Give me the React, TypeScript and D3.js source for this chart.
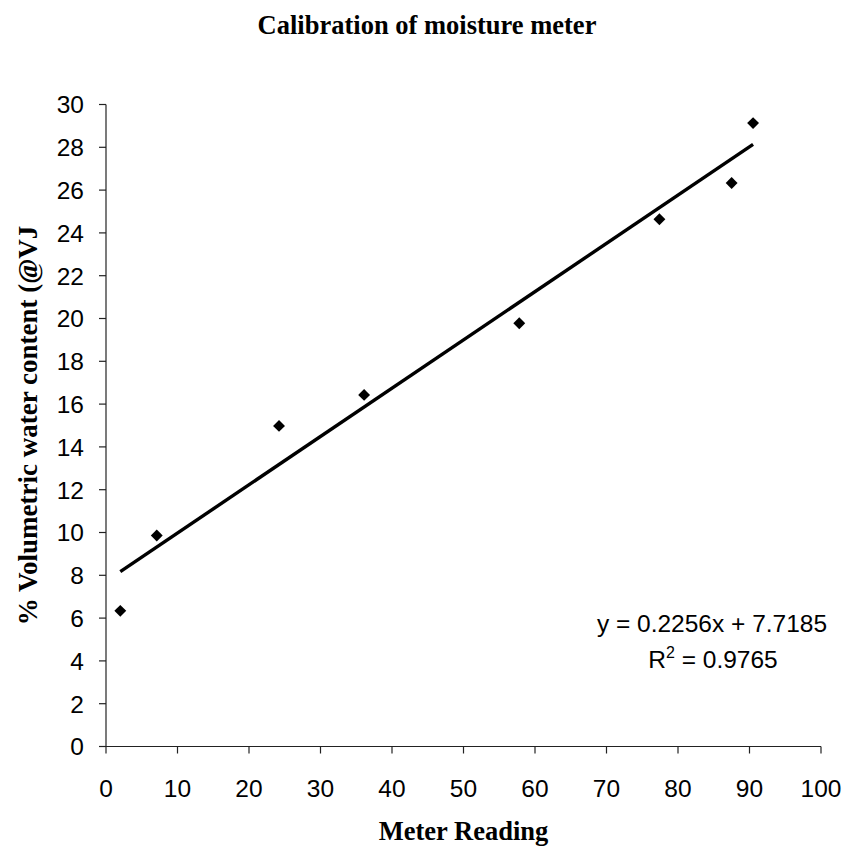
import React from "react";
import * as d3 from "d3";

const meterReading = [2.0, 7.1, 24.2, 36.1, 57.8, 77.4, 87.5, 90.5];
const waterContent = [6.34, 9.86, 14.98, 16.43, 19.78, 24.64, 26.33, 29.13];
const xTicks = [0, 10, 20, 30, 40, 50, 60, 70, 80, 90, 100];
const yTicks = [0, 2, 4, 6, 8, 10, 12, 14, 16, 18, 20, 22, 24, 26, 28, 30];
const slope = 0.2256;
const intercept = 7.7185;
const equationText = "y = 0.2256x + 7.7185";
const rSquaredText = "= 0.9765";
const title = "Calibration of moisture meter";
const xTitle = "Meter Reading";
const yTitle = "% Volumetric water content (@VJ";

export default function App() {
  const W = 849, H = 849;
  const left = 106, right = 821, top = 104.5, bottom = 746.5;
  const x = d3.scaleLinear().domain([0, 100]).range([left, right]);
  const y = d3.scaleLinear().domain([0, 30]).range([bottom, top]);
  const xMin = d3.min(meterReading) as number;
  const xMax = d3.max(meterReading) as number;
  const line = d3.line<number>().x((d) => x(d)).y((d) => y(slope * d + intercept));
  const diamond = d3.symbol().type(d3.symbolDiamond2).size(90)();
  const tickFont = "Arial, 'Liberation Sans', sans-serif";
  const serif = "'Times New Roman', 'Liberation Serif', serif";
  const plotCx = (left + right) / 2;
  const plotCy = (top + bottom) / 2;
  return (
    <svg width={W} height={H} style={{ position: "absolute", left: 0, top: 0, background: "#fff" }}>
      <text x={427} y={34} textAnchor="middle" fontFamily={serif} fontWeight="bold" fontSize={26.5}>{title}</text>
      {/* axes */}
      <line x1={left} x2={left} y1={top} y2={bottom} stroke="#222" strokeWidth={1.2} />
      <line x1={left} x2={right} y1={bottom} y2={bottom} stroke="#222" strokeWidth={1.2} />
      {yTicks.map((t) => (
        <g key={"y" + t}>
          <line x1={left - 7} x2={left} y1={y(t)} y2={y(t)} stroke="#222" strokeWidth={1.2} />
          <text x={84} y={y(t) + 8.8} textAnchor="end" fontFamily={tickFont} fontSize={24.5}>{t}</text>
        </g>
      ))}
      {xTicks.map((t) => (
        <g key={"x" + t}>
          <line x1={x(t)} x2={x(t)} y1={bottom} y2={bottom + 7} stroke="#222" strokeWidth={1.2} />
          <text x={x(t)} y={797} textAnchor="middle" fontFamily={tickFont} fontSize={24.5}>{t}</text>
        </g>
      ))}
      {/* trendline */}
      <path d={line([xMin, xMax]) || ""} stroke="#000" strokeWidth={3.4} fill="none" />
      {/* points */}
      {meterReading.map((m, i) => (
        <path key={i} d={diamond || ""} transform={`translate(${x(m)},${y(waterContent[i])})`} fill="#000" />
      ))}
      <text x={712} y={632} textAnchor="middle" fontFamily={tickFont} fontSize={24.5}>{equationText}</text>
      <text x={713} y={668} textAnchor="middle" fontFamily={tickFont} fontSize={24.5}>
        R<tspan dy={-10} fontSize={16}>2</tspan><tspan dy={10}> {rSquaredText}</tspan>
      </text>
      <text x={plotCx} y={840} textAnchor="middle" fontFamily={serif} fontWeight="bold" fontSize={26.5}>{xTitle}</text>
      <text transform={`translate(37,${plotCy}) rotate(-90)`} textAnchor="middle" fontFamily={serif} fontWeight="bold" fontSize={27}>{yTitle}</text>
    </svg>
  );
}
